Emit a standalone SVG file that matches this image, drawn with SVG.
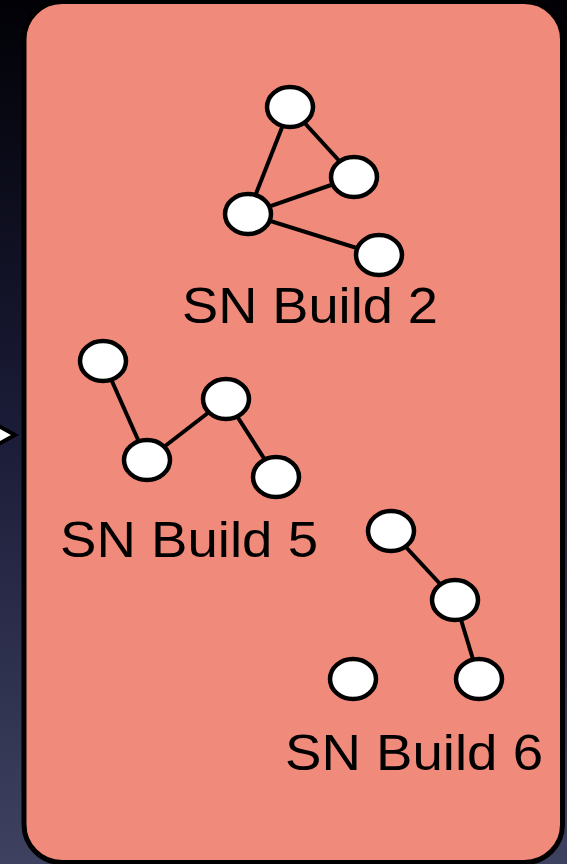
<svg xmlns="http://www.w3.org/2000/svg" width="567" height="864" viewBox="0 0 567 864">
  <defs>
    <linearGradient id="bg" x1="0" y1="0" x2="0" y2="1">
      <stop offset="0" stop-color="#010106"/>
      <stop offset="0.5" stop-color="#1b1c38"/>
      <stop offset="1" stop-color="#3e4260"/>
    </linearGradient>
    <style>
      .node { fill: #ffffff; stroke: #000000; stroke-width: 4.5; }
      .edge { stroke: #000000; stroke-width: 4; fill: none; }
      .label { font-family: "Liberation Sans", Arial, sans-serif; font-size: 50px; fill: #000000; }
    </style>
  </defs>
  <rect x="0" y="0" width="567" height="864" fill="url(#bg)"/>
  <polygon points="-30,410 15,435 -30,460" fill="#ffffff" stroke="#000000" stroke-width="4"/>
  <rect id="panel" x="24" y="1.5" width="538.5" height="861" rx="38" ry="38" fill="#f08a7a" stroke="#000000" stroke-width="5"/>

  <g id="connectors">
    <line class="edge" x1="290" y1="107" x2="248" y2="214"/>
    <line class="edge" x1="290" y1="107" x2="354" y2="177"/>
    <line class="edge" x1="248" y1="214" x2="354" y2="177"/>
    <line class="edge" x1="248" y1="214" x2="379" y2="255"/>
    <line class="edge" x1="103" y1="361" x2="147" y2="460"/>
    <line class="edge" x1="147" y1="460" x2="226" y2="399"/>
    <line class="edge" x1="226" y1="399" x2="276" y2="477"/>
    <line class="edge" x1="391" y1="531" x2="455" y2="600"/>
    <line class="edge" x1="455" y1="600" x2="479" y2="679"/>
  </g>

  <g id="build2">
    <ellipse class="node" cx="290" cy="107" rx="23" ry="20"/>
    <ellipse class="node" cx="354" cy="177" rx="23" ry="20"/>
    <ellipse class="node" cx="248" cy="214" rx="23" ry="20"/>
    <ellipse class="node" cx="379" cy="255" rx="23" ry="20"/>
    <text class="label" x="182" y="323" textLength="256" lengthAdjust="spacingAndGlyphs">SN Build 2</text>
  </g>

  <g id="build5">
    <ellipse class="node" cx="103" cy="361" rx="23" ry="20"/>
    <ellipse class="node" cx="147" cy="460" rx="23" ry="20"/>
    <ellipse class="node" cx="226" cy="399" rx="23" ry="20"/>
    <ellipse class="node" cx="276" cy="477" rx="23" ry="20"/>
    <text class="label" x="60" y="557" textLength="258" lengthAdjust="spacingAndGlyphs">SN Build 5</text>
  </g>

  <g id="build6">
    <ellipse class="node" cx="391" cy="531" rx="23" ry="20"/>
    <ellipse class="node" cx="455" cy="600" rx="23" ry="20"/>
    <ellipse class="node" cx="479" cy="679" rx="23" ry="20"/>
    <ellipse class="node" cx="353" cy="679" rx="23" ry="20"/>
    <text class="label" x="285" y="770" textLength="258" lengthAdjust="spacingAndGlyphs">SN Build 6</text>
  </g>
</svg>
